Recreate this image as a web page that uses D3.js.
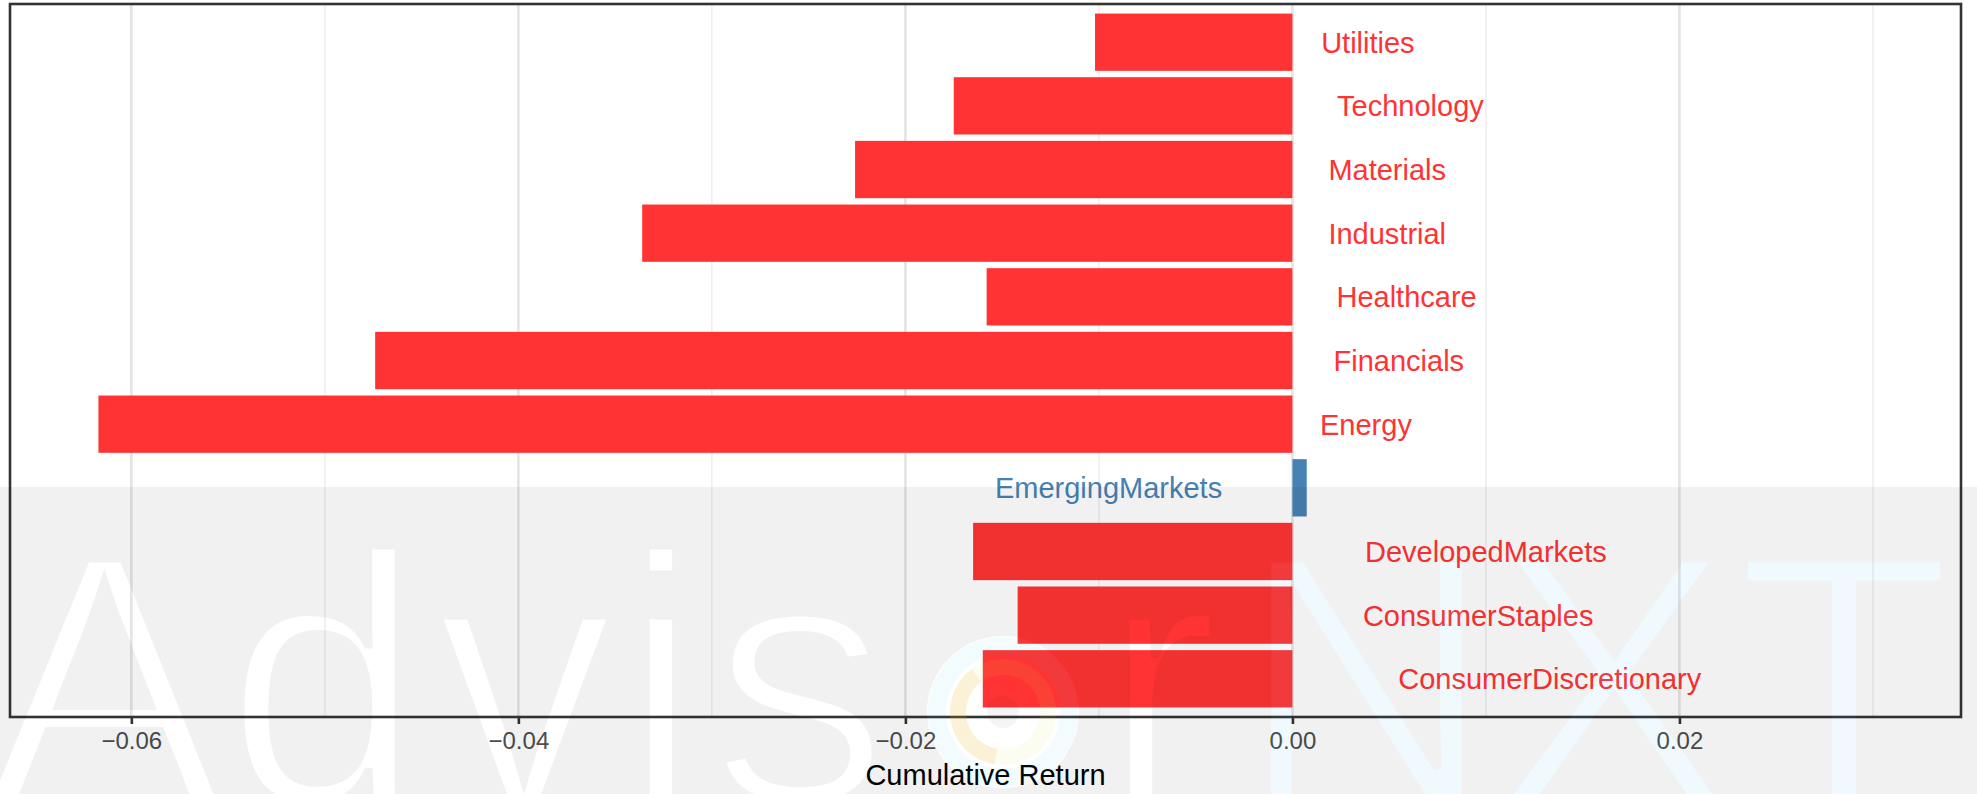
<!DOCTYPE html>
<html>
<head>
<meta charset="utf-8">
<script src="https://cdn.jsdelivr.net/npm/d3@7/dist/d3.min.js"></script>
<style>
body{margin:0;background:#fff;}
svg{display:block;font-family:"Liberation Sans",Arial,Helvetica,sans-serif;}
</style>
</head>
<body>
<svg id="chart" width="1977" height="794"></svg>
<script>
// sector cumulative returns (alphabetical, bottom to top in the chart)
var categories = ["ConsumerDiscretionary", "ConsumerStaples", "DevelopedMarkets", "EmergingMarkets",
	"Energy", "Financials", "Healthcare", "Industrial", "Materials", "Technology", "Utilities"];
var returns = [-0.0160, -0.0142, -0.0165, 0.00074, -0.0617, -0.0474, -0.0158, -0.0336, -0.0226, -0.0175, -0.0102];
// where each label sits on the return axis
var labelPos = [0.0133, 0.0096, 0.0100, -0.0095, 0.0038, 0.0055, 0.0059, 0.0049, 0.0049, 0.0061, 0.0039];
var majorTicks = [-0.06, -0.04, -0.02, 0, 0.02];
var minorTicks = [-0.05, -0.03, -0.01, 0.01, 0.03];
var xTitle = "Cumulative Return";

var W = 1977, H = 794;
var panel = {left: 10, right: 1961, top: 4, bottom: 717};
var svg = d3.select("#chart");

var data = categories.map(function(c, i){
	return {name: c, value: returns[i], label: labelPos[i]};
});

var x = d3.scaleLinear().domain([-0.06627, 0.03455]).range([panel.left, panel.right]);
var y = d3.scaleBand()
	.domain(categories.slice().reverse())
	.range([panel.top, panel.bottom])
	.paddingInner(0.1)
	.paddingOuter(0.15);

var red = "#ff3333", blue = "#4682b4";

svg.append("rect").attr("width", W).attr("height", H).attr("fill", "#fff");

// grid
svg.append("g").selectAll("line").data(minorTicks).enter().append("line")
	.attr("x1", function(d){ return x(d); }).attr("x2", function(d){ return x(d); })
	.attr("y1", panel.top).attr("y2", panel.bottom)
	.attr("stroke", "#ebebeb").attr("stroke-width", 1.3);
svg.append("g").selectAll("line").data(majorTicks).enter().append("line")
	.attr("x1", function(d){ return x(d); }).attr("x2", function(d){ return x(d); })
	.attr("y1", panel.top).attr("y2", panel.bottom)
	.attr("stroke", "#e4e4e4").attr("stroke-width", 2.6);

// bars
svg.append("g").selectAll("rect").data(data).enter().append("rect")
	.attr("x", function(d){ return Math.min(x(d.value), x(0)); })
	.attr("y", function(d){ return y(d.name); })
	.attr("width", function(d){ return Math.abs(x(d.value) - x(0)); })
	.attr("height", y.bandwidth())
	.attr("fill", function(d){ return d.value < 0 ? red : blue; });

// labels
svg.append("g").selectAll("text").data(data).enter().append("text")
	.attr("x", function(d){ return x(d.label); })
	.attr("y", function(d){ return y(d.name) + y.bandwidth()/2; })
	.attr("dy", "0.36em")
	.attr("text-anchor", "middle")
	.attr("font-size", "29px")
	.attr("fill", function(d){ return d.value < 0 ? red : blue; })
	.text(function(d){ return d.name; });

// panel border
svg.append("rect")
	.attr("x", panel.left).attr("y", panel.top)
	.attr("width", panel.right - panel.left).attr("height", panel.bottom - panel.top)
	.attr("fill", "none").attr("stroke", "#333").attr("stroke-width", 2.6);

// x axis
var xAxis = d3.axisBottom(x)
	.tickValues(majorTicks)
	.tickFormat(d3.format(".2f"))
	.tickSize(7)
	.tickSizeOuter(0)
	.tickPadding(8);
var ax = svg.append("g")
	.attr("transform", "translate(0," + panel.bottom + ")")
	.call(xAxis);
ax.select(".domain").remove();
ax.selectAll(".tick line").attr("stroke", "#333").attr("stroke-width", 2.6);
ax.selectAll(".tick text")
	.attr("fill", "#4d4d4d")
	.style("font-size", "24px")
	.style("font-family", "'Liberation Sans', Arial, sans-serif");

svg.append("text")
	.attr("x", (panel.left + panel.right)/2)
	.attr("y", 785)
	.attr("text-anchor", "middle")
	.attr("font-size", "29px")
	.attr("fill", "#000")
	.text(xTitle);

// watermark: grey band with the letters cut out (glyphs thinned with a stroke)
var wmTop = 487, wmBase = 803, wmSize = 356;
var letters = [
	{ch: "A", x: 104}, {ch: "d", x: 324}, {ch: "v", x: 525}, {ch: "i", x: 661}, {ch: "s", x: 800},
	{ch: "r", x: 1160}, {ch: "N", x: 1366}, {ch: "X", x: 1613}, {ch: "T", x: 1844}
];
var logo = {cx: 1003, cy: 712};

function glyphs(sel, list, fill, edge){
	sel.selectAll("text").data(list).enter().append("text")
		.attr("x", function(d){ return d.x; })
		.attr("y", wmBase)
		.attr("text-anchor", "middle")
		.attr("font-family", "'Liberation Sans', Arial, sans-serif")
		.attr("font-size", wmSize)
		.attr("fill", fill)
		.attr("stroke", edge).attr("stroke-width", 9)
		.text(function(d){ return d.ch; });
}

var defs = svg.append("defs");
var mask = defs.append("mask").attr("id", "wmMask")
	.attr("maskUnits", "userSpaceOnUse")
	.attr("x", 0).attr("y", 0).attr("width", W).attr("height", H);
mask.append("rect").attr("width", W).attr("height", H).attr("fill", "#fff");
glyphs(mask, letters, "#000", "#fff");
mask.append("circle").attr("cx", logo.cx).attr("cy", logo.cy).attr("r", 76).attr("fill", "#000");

var nxtMask = defs.append("mask").attr("id", "nxtMask")
	.attr("maskUnits", "userSpaceOnUse")
	.attr("x", 0).attr("y", 0).attr("width", W).attr("height", H);
nxtMask.append("rect").attr("width", W).attr("height", H).attr("fill", "#000");
glyphs(nxtMask, letters.slice(6), "#fff", "#000");

svg.append("rect")
	.attr("x", 0).attr("y", wmTop).attr("width", W).attr("height", H - wmTop)
	.attr("fill", "#000").attr("fill-opacity", 0.055)
	.attr("mask", "url(#wmMask)");

// faint cyan tint on NXT
svg.append("rect")
	.attr("x", 0).attr("y", wmTop).attr("width", W).attr("height", H - wmTop)
	.attr("fill", "#00aae6").attr("fill-opacity", 0.06)
	.attr("mask", "url(#nxtMask)");

// logo rings
var lg = svg.append("g").attr("transform", "translate(" + logo.cx + "," + logo.cy + ")");
lg.append("circle").attr("r", 66).attr("fill", "none")
	.attr("stroke", "#00aae6").attr("stroke-opacity", 0.05).attr("stroke-width", 18);
lg.append("circle").attr("r", 45).attr("fill", "none")
	.attr("stroke", "#c8e040").attr("stroke-opacity", 0.08).attr("stroke-width", 16);
lg.append("path")
	.attr("d", d3.arc().innerRadius(37).outerRadius(53).startAngle(-Math.PI*0.95).endAngle(-Math.PI*0.2)())
	.attr("fill", "#ff8a00").attr("fill-opacity", 0.1);
lg.append("circle").attr("r", 16).attr("fill", "#000").attr("fill-opacity", 0.04);
</script>
</body>
</html>
